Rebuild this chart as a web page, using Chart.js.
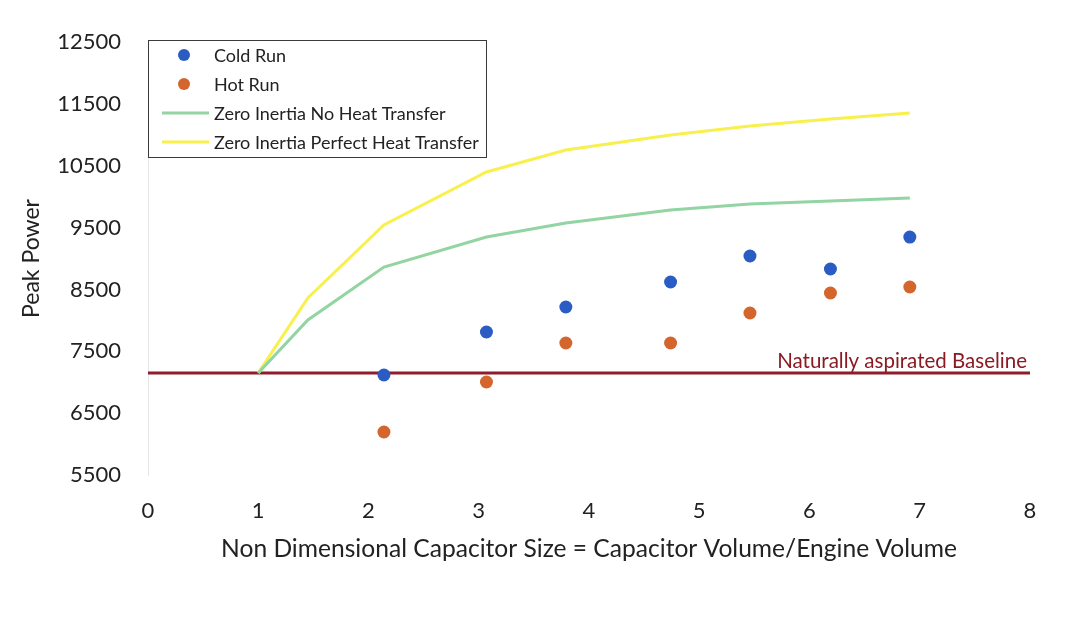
<!DOCTYPE html>
<html><head><meta charset="utf-8">
<script src="https://cdn.jsdelivr.net/npm/chart.js@4/dist/chart.umd.min.js"></script>
<style>html,body{margin:0;padding:0;background:#fff}#wrap{width:1067px;height:619px}</style>
</head><body><div id="wrap"><canvas id="c" width="1067" height="619"></canvas></div>
<script>
const capacitorSize = [2.14, 3.07, 3.79, 4.74, 5.46, 6.19, 6.91];
const coldRun = [7117, 7812, 8216, 8620, 9040, 8830, 9347];
const hotRun = [6195, 7003, 7634, 7634, 8119, 8442, 8539];
const modelSize = [1, 1.45, 2.14, 3.07, 3.79, 4.74, 5.46, 6.19, 6.91];
const noHeatTransfer = [7150, 8006, 8862, 9347, 9574, 9784, 9881, 9929, 9978];
const perfectHeatTransfer = [7150, 8361, 9541, 10398, 10754, 10996, 11142, 11255, 11352];
const baselineX = [0, 8];
const baselineValue = 7150;
const baselineLabel = 'Naturally aspirated Baseline';
const xTicks = [0, 1, 2, 3, 4, 5, 6, 7, 8];
const yTicks = [5500, 6500, 7500, 8500, 9500, 10500, 11500, 12500];
const xTitle = 'Non Dimensional Capacitor Size = Capacitor Volume/Engine Volume';
const yTitle = 'Peak Power';

const FONT = 'Lato';
const pts = (xs, ys) => xs.map((x, i) => ({x: x, y: ys[i]}));

const datasets = [
  {label: 'Cold Run', data: pts(capacitorSize, coldRun), showLine: false,
   pointRadius: 6.5, pointBackgroundColor: '#2b5cc4', pointBorderWidth: 0, backgroundColor: '#2b5cc4', borderColor: '#2b5cc4', legendType: 'dot'},
  {label: 'Hot Run', data: pts(capacitorSize, hotRun), showLine: false,
   pointRadius: 6.5, pointBackgroundColor: '#d4652c', pointBorderWidth: 0, backgroundColor: '#d4652c', borderColor: '#d4652c', legendType: 'dot'},
  {label: 'Zero Inertia No Heat Transfer', data: pts(modelSize, noHeatTransfer), showLine: true,
   pointRadius: 0, borderColor: '#92d4a2', borderWidth: 3, tension: 0, legendType: 'line'},
  {label: 'Zero Inertia Perfect Heat Transfer', data: pts(modelSize, perfectHeatTransfer), showLine: true,
   pointRadius: 0, borderColor: '#f8f04c', borderWidth: 3, tension: 0, legendType: 'line'},
  {label: baselineLabel, data: pts(baselineX, baselineX.map(() => baselineValue)), showLine: true,
   pointRadius: 0, borderColor: '#8f1b2b', borderWidth: 3, tension: 0, legendType: 'none'}
];

const overlay = {
  id: 'overlay',
  afterDatasetsDraw(chart) {
    const ctx = chart.ctx, xs = chart.scales.x, ys = chart.scales.y;
    ctx.save();
    // baseline label
    ctx.font = '20.5px ' + FONT;
    ctx.fillStyle = '#8b1a22';
    ctx.textAlign = 'right';
    ctx.textBaseline = 'middle';
    ctx.fillText(baselineLabel, xs.getPixelForValue(8) - 3, ys.getPixelForValue(baselineValue) - 12);
    // legend
    const lx = 148, ly = 40, lw = 338, lh = 117;
    ctx.fillStyle = '#ffffff';
    ctx.fillRect(lx, ly, lw, lh);
    ctx.strokeStyle = '#3a3a3a';
    ctx.lineWidth = 1;
    ctx.strokeRect(lx + 0.5, ly + 0.5, lw, lh);
    const rowsY = [55, 84, 113, 142];
    let r = 0;
    chart.data.datasets.forEach(ds => {
      if (ds.legendType === 'none') return;
      const y = rowsY[r++];
      if (ds.legendType === 'dot') {
        ctx.beginPath();
        ctx.fillStyle = ds.pointBackgroundColor;
        ctx.arc(184, y, 6, 0, Math.PI * 2);
        ctx.fill();
      } else {
        ctx.beginPath();
        ctx.strokeStyle = ds.borderColor;
        ctx.lineWidth = 3;
        ctx.moveTo(162, y);
        ctx.lineTo(209, y);
        ctx.stroke();
      }
      ctx.font = '18px ' + FONT;
      ctx.fillStyle = '#222';
      ctx.textAlign = 'left';
      ctx.textBaseline = 'middle';
      ctx.fillText(ds.label, 214, y + 1);
    });
    ctx.restore();
  }
};

new Chart(document.getElementById('c'), {
  type: 'scatter',
  data: {datasets: datasets},
  plugins: [overlay],
  options: {
    responsive: false,
    animation: false,
    devicePixelRatio: 1,
    layout: {padding: {left: 0, right: 37, top: 42, bottom: 0}},
    plugins: {legend: {display: false}, tooltip: {enabled: false}},
    scales: {
      x: {
        type: 'linear', min: 0, max: 8,
        afterBuildTicks: s => { s.ticks = xTicks.map(v => ({value: v})); },
        afterFit: s => { s.height = 144; },
        grid: {display: false, drawTicks: false},
        border: {display: false},
        ticks: {padding: 23, color: '#222', font: {family: FONT, size: 22}, callback: v => String(v)},
        title: {display: true, text: xTitle, color: '#222', font: {family: FONT, size: 24.6}, padding: {top: 0, bottom: 55}}
      },
      y: {
        type: 'linear', min: 5500, max: 12500,
        afterBuildTicks: s => { s.ticks = yTicks.map(v => ({value: v})); },
        afterFit: s => { s.width = 148; },
        grid: {display: false, drawTicks: false},
        border: {display: true, color: '#e6e6e6', width: 1},
        ticks: {padding: 27, color: '#222', font: {family: FONT, size: 22}, callback: v => String(v)},
        title: {display: true, text: yTitle, color: '#222', font: {family: FONT, size: 23}, padding: {top: 18, bottom: 0}}
      }
    }
  }
});
</script>
</body></html>
